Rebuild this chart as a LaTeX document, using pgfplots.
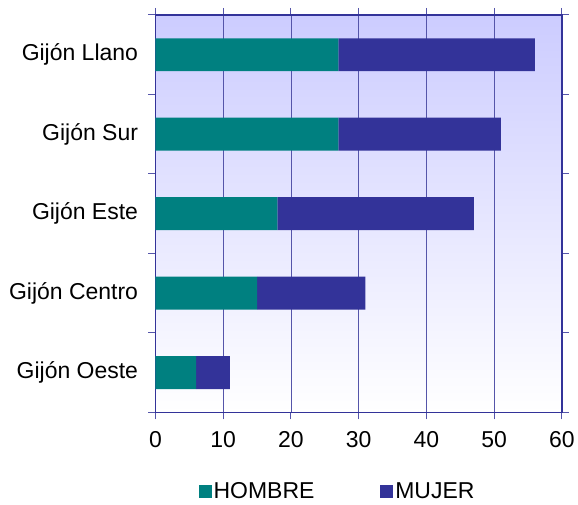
\documentclass[border=0pt]{standalone}
\usepackage{pgfplots}
\pgfplotsset{compat=1.18}
\usepackage{fontspec}
\setmainfont{Liberation Sans}
\definecolor{hombre}{RGB}{0,128,128}
\definecolor{mujer}{RGB}{51,51,153}
\definecolor{frame}{RGB}{51,51,153}
\definecolor{gridc}{RGB}{85,85,170}
\definecolor{lav}{RGB}{204,204,255}
\begin{document}
\begin{tikzpicture}
\begin{axis}[
  name=ax,
  scale only axis,
  width=407pt, height=398pt,
  xbar stacked,
  bar width=33pt,
  xmin=0, xmax=60,
  ymin=-0.5, ymax=4.5,
  xtick={0,10,...,60},
  ytick={0,1,2,3,4},
  yticklabels={Gijón Oeste,Gijón Centro,Gijón Este,Gijón Sur,Gijón Llano},
  minor ytick={-0.5,0.5,...,4.5},
  major y tick style={draw=none},
  minor y tick style={draw=gridc, line width=1pt},
  major x tick style={draw=gridc, line width=1pt},
  tick align=outside,
  major tick length=7pt,
  minor tick length=7pt,
  axis line style={draw=frame, line width=1.8pt},
  xmajorgrids,
  grid style={draw=gridc, line width=0.9pt},
  axis background/.style={top color=lav, bottom color=white},
  tick label style={font=\fontsize{23}{27}\selectfont, text=black},
  /pgf/number format/assume math mode=true,
  yticklabel style={xshift=-7pt},
  xticklabel style={yshift=-9pt},
  legend style={at={(0.448,-0.199)}, anchor=center, draw=none, fill=none,
    legend columns=2, font=\fontsize{23}{27}\selectfont,
    /tikz/every even column/.append style={column sep=64pt}},
  legend image code/.code={\fill[#1] (0pt,-6.5pt) rectangle (13pt,6.5pt);},
]
\addplot[fill=hombre, draw=none] coordinates {(6,0) (15,1) (18,2) (27,3) (27,4)};
\addplot[fill=mujer, draw=none] coordinates {(5,0) (16,1) (29,2) (24,3) (29,4)};
\legend{HOMBRE,MUJER}
\end{axis}
\path (ax.south west) ++(-155.7pt,-90pt) rectangle ++(578pt,503pt);
\end{tikzpicture}
\end{document}
